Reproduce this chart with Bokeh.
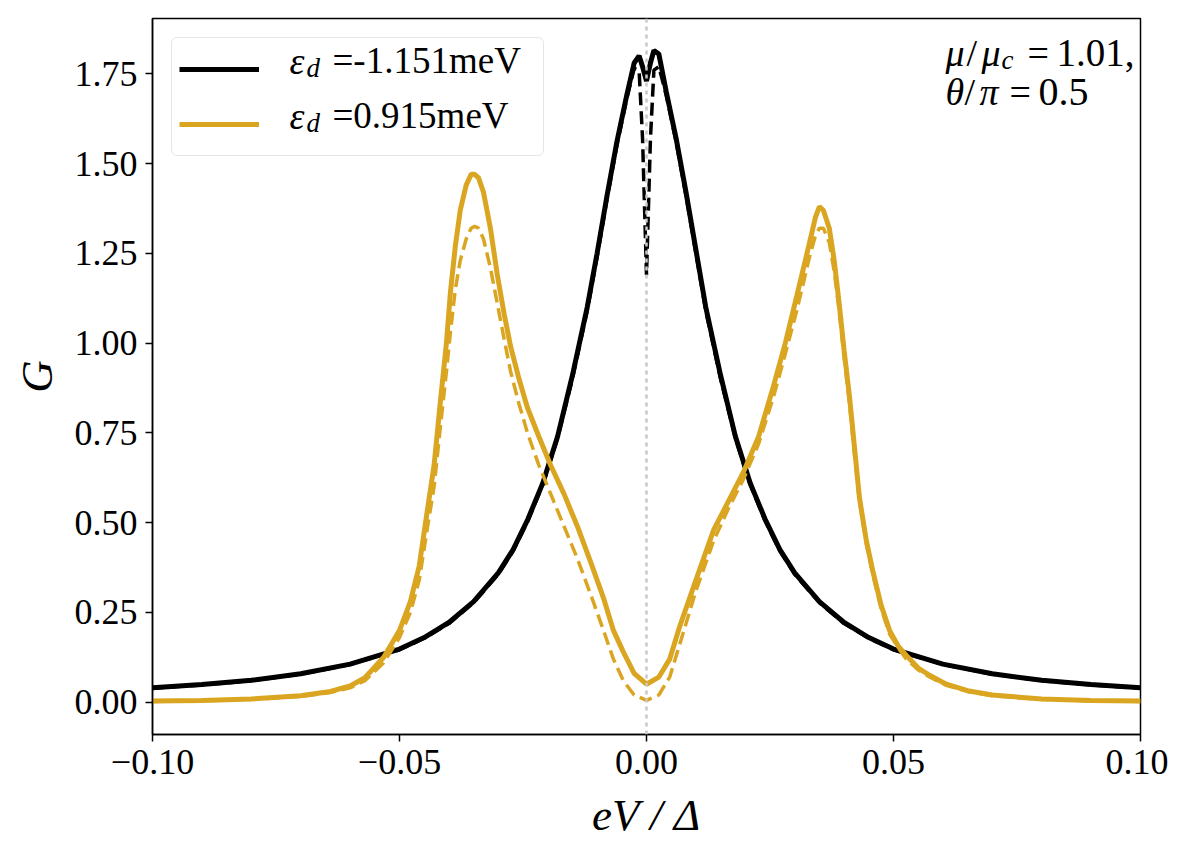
from bokeh.plotting import figure
from bokeh.models import Range1d, FixedTicker, Span, Label, Legend, LegendItem
from bokeh.embed import file_html
from bokeh.resources import INLINE

# ---------------- data ----------------
x_ticks = [-0.10, -0.05, 0.0, 0.05, 0.10]
x_tick_labels = ["\u22120.10", "\u22120.05", "0.00", "0.05", "0.10"]
y_ticks = [0.0, 0.25, 0.5, 0.75, 1.0, 1.25, 1.5, 1.75]
y_tick_labels = ["0.00", "0.25", "0.50", "0.75", "1.00", "1.25", "1.50", "1.75"]

# black series  (eps_d = -1.151 meV)
black_x = [-0.100, -0.090, -0.080, -0.070, -0.060, -0.050, -0.045, -0.040, -0.035,
           -0.030, -0.027, -0.024, -0.021, -0.018, -0.015, -0.012, -0.010, -0.008,
           -0.006, -0.004, -0.0025, -0.0015, -0.0008, 0.0, 0.0008, 0.0015, 0.0025,
           0.004, 0.006, 0.008, 0.010, 0.012, 0.015, 0.018, 0.021, 0.024, 0.027,
           0.030, 0.035, 0.040, 0.045, 0.050, 0.060, 0.070, 0.080, 0.090, 0.100]
black_solid = [0.040, 0.049, 0.061, 0.079, 0.106, 0.148, 0.180, 0.222, 0.280,
               0.360, 0.425, 0.510, 0.610, 0.740, 0.910, 1.100, 1.250, 1.410,
               1.560, 1.690, 1.780, 1.800, 1.770, 1.730, 1.780, 1.815, 1.805,
               1.700, 1.570, 1.420, 1.260, 1.100, 0.910, 0.740, 0.610, 0.510, 0.425,
               0.360, 0.280, 0.222, 0.180, 0.148, 0.106, 0.079, 0.061, 0.049, 0.040]
black_dashed = [0.039, 0.048, 0.060, 0.078, 0.105, 0.146, 0.178, 0.219, 0.277,
                0.356, 0.421, 0.505, 0.605, 0.735, 0.900, 1.090, 1.240, 1.400,
                1.550, 1.680, 1.765, 1.760, 1.570, 1.190, 1.570, 1.760, 1.770,
                1.690, 1.560, 1.410, 1.250, 1.090, 0.900, 0.735, 0.605, 0.505, 0.421,
                0.356, 0.277, 0.219, 0.178, 0.146, 0.105, 0.078, 0.060, 0.048, 0.039]

# gold series  (eps_d = 0.915 meV)
gold_x = [-0.100, -0.090, -0.080, -0.070, -0.064, -0.060, -0.057, -0.0532, -0.050,
          -0.0478, -0.046, -0.0443, -0.043, -0.0417, -0.0405, -0.0397, -0.0387,
          -0.0377, -0.0365, -0.0355, -0.0348, -0.034, -0.033, -0.0316, -0.0302,
          -0.0288, -0.0275, -0.0258, -0.0241, -0.0218, -0.0194, -0.0167, -0.014,
          -0.0113, -0.0087, -0.0067, -0.0047, -0.0025, 0.0, 0.0025, 0.0047, 0.0067,
          0.0100, 0.0136, 0.0166, 0.0196, 0.0227, 0.0257, 0.0281, 0.0304, 0.0318,
          0.0330, 0.0342, 0.0350, 0.0358, 0.0370, 0.0380, 0.0390, 0.0400, 0.0411,
          0.0421, 0.0431, 0.0445, 0.0459, 0.0475, 0.0492, 0.0510, 0.0526, 0.0550,
          0.0573, 0.0607, 0.065, 0.070, 0.080, 0.090, 0.100]
gold_solid = [0.003, 0.005, 0.009, 0.018, 0.030, 0.045, 0.068, 0.125, 0.200,
              0.280, 0.380, 0.540, 0.660, 0.840, 1.000, 1.140, 1.270,
              1.370, 1.440, 1.470, 1.470, 1.460, 1.420, 1.320, 1.190,
              1.080, 0.990, 0.900, 0.820, 0.740, 0.660, 0.580, 0.490,
              0.390, 0.290, 0.200, 0.140, 0.080, 0.050, 0.070, 0.120, 0.210,
              0.340, 0.480, 0.560, 0.640, 0.740, 0.880, 1.000, 1.130, 1.210,
              1.280, 1.350, 1.380, 1.370, 1.320, 1.230, 1.110, 0.980, 0.850,
              0.710, 0.570, 0.450, 0.360, 0.270, 0.200, 0.155, 0.130, 0.095,
              0.075, 0.050, 0.032, 0.020, 0.009, 0.005, 0.003]
gold_dashed = [0.002, 0.004, 0.008, 0.016, 0.027, 0.040, 0.060, 0.110, 0.180,
               0.250, 0.340, 0.490, 0.600, 0.770, 0.920, 1.030, 1.150,
               1.230, 1.290, 1.320, 1.325, 1.320, 1.290, 1.210, 1.110,
               1.010, 0.920, 0.830, 0.750, 0.660, 0.580, 0.490, 0.400,
               0.300, 0.200, 0.120, 0.060, 0.020, 0.005, 0.020, 0.070, 0.160,
               0.310, 0.450, 0.540, 0.620, 0.720, 0.850, 0.970, 1.090, 1.170,
               1.240, 1.300, 1.320, 1.320, 1.280, 1.200, 1.090, 0.960, 0.830,
               0.690, 0.560, 0.440, 0.350, 0.260, 0.190, 0.150, 0.120, 0.090,
               0.070, 0.047, 0.030, 0.018, 0.008, 0.004, 0.002]

BLACK = "#000000"
GOLD = "#DAA520"
SERIF = "Liberation Serif"

# ---------------- figure ----------------
p = figure(frame_width=988, frame_height=716,
           x_range=Range1d(-0.1, 0.1), y_range=Range1d(-0.09, 1.904),
           output_backend="svg", toolbar_location=None,
           min_border_left=152, min_border_right=28,
           min_border_top=18, min_border_bottom=108)
p.background_fill_color = "white"
p.border_fill_color = "white"
p.outline_line_color = "black"
p.outline_line_width = 1.5
p.xgrid.visible = False
p.ygrid.visible = False

r_bs = p.line(black_x, black_solid, line_color=BLACK, line_width=5)
r_bd = p.line(black_x, black_dashed, line_color=BLACK, line_width=3.5, line_dash="13 6")
r_gs = p.line(gold_x, gold_solid, line_color=GOLD, line_width=5)
r_gd = p.line(gold_x, gold_dashed, line_color=GOLD, line_width=3.5, line_dash="13 6")

p.add_layout(Span(location=0.0, dimension="height", line_color="#c8c8c8",
                  line_width=2.5, line_dash="4 4"))

for ax in (p.xaxis[0], p.yaxis[0]):
    ax.axis_line_width = 1.5
    ax.axis_line_color = "black"
    ax.major_tick_line_width = 1.5
    ax.major_tick_line_color = "black"
    ax.major_tick_out = 7
    ax.major_tick_in = 0
    ax.minor_tick_out = 0
    ax.minor_tick_in = 0
    ax.major_label_text_font = SERIF
    ax.major_label_text_font_size = "36px"
    ax.major_label_text_color = "black"
    ax.axis_label_text_font = SERIF
    ax.axis_label_text_font_size = "45px"
    ax.axis_label_text_font_style = "italic"
    ax.axis_label_text_color = "black"

p.xaxis.ticker = FixedTicker(ticks=x_ticks)
p.xaxis.major_label_overrides = dict(zip(x_ticks, x_tick_labels))
p.yaxis.ticker = FixedTicker(ticks=y_ticks)
p.yaxis.major_label_overrides = dict(zip(y_ticks, y_tick_labels))
p.xaxis.major_label_standoff = 8
p.yaxis.major_label_standoff = 8
p.xaxis.axis_label = "eV / \u0394"
p.yaxis.axis_label = "G"
p.xaxis.axis_label_standoff = 13
p.yaxis.axis_label_standoff = 10

# ---------------- legend (box + line samples native, text as labels) ----------------
legend = Legend(items=[LegendItem(label=" ", renderers=[r_bs]),
                       LegendItem(label=" ", renderers=[r_gs])],
                location="top_left", margin=19, padding=7, spacing=7,
                glyph_width=80, glyph_height=48, label_height=48, label_width=250,
                label_standoff=27, border_line_color="#cccccc", border_line_width=1.5,
                border_radius=6, background_fill_alpha=0.0,
                label_text_font=SERIF, label_text_font_size="36px")
p.add_layout(legend)

FL, FB = 152, 734   # frame left / bottom in page pixels


def put(text, X, Y, size="36px", style="normal", align="left"):
    p.add_layout(Label(x=X - FL, y=FB - Y, x_units="screen", y_units="screen",
                       text=text, text_font=SERIF, text_font_size=size,
                       text_font_style=style, text_color="black",
                       text_align=align, text_baseline="alphabetic",
                       level="overlay"))


legend_rows = [("=-1.151meV", 60), ("=0.915meV", 115)]
for txt, base in legend_rows:
    put("\u03b5", 289, base, "38px", "italic")
    put("d", 306, base + 7, "27px", "italic")
    put(txt, 332, base, "37px")

L1, L2 = 52, 91
put("\u03bc", 945, L1, "38px", "italic")
put("/", 966, L1, "38px")
put("\u03bc", 981, L1, "38px", "italic")
put("c", 1001, L1 + 7, "27px", "italic")
put("=", 1027, L1, "38px")
put("1.01,", 1056, L1, "39px")
put("\u03b8", 945, L2, "38px", "italic")
put("/", 964, L2, "38px")
put("\u03c0", 979, L2, "38px", "italic")
put("=", 1009, L2, "38px")
put("0.5", 1038, L2, "40px")

open("out.html", "w").write(file_html(p, INLINE))
